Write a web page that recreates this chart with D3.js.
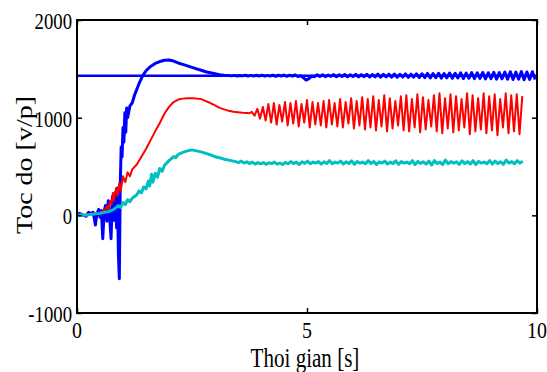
<!DOCTYPE html>
<html><head><meta charset="utf-8">
<script src="https://cdn.jsdelivr.net/npm/d3@7"></script>
<style>body{margin:0;background:#fff}</style>
</head><body><svg id="c" width="547" height="372"></svg>
<script>
// ---- data ----
const xTicks = [0, 5, 10];
const yTicks = [-1000, 0, 1000, 2000];
const xLabel = "Thoi gian [s]";
const yLabel = "Toc do [v/p]";
const refSpeed = 1430;

const blueHead = [[0,0],[0.05,20],[0.1,10],[0.15,0],[0.2,-10],[0.25,30],[0.3,20],[0.35,30],[0.38,-40],[0.4,-100],[0.43,10],[0.47,60],[0.5,-20],[0.53,50],[0.56,-240],[0.59,40],[0.62,100],[0.65,-60],[0.68,150],[0.71,-20],[0.74,-240],[0.77,190],[0.8,-50],[0.83,230],[0.86,-130],[0.88,280],[0.9,-400],[0.92,-650],[0.94,300],[0.96,700],[0.98,600],[1.0,900],[1.02,750],[1.04,1050],[1.06,850],[1.08,1100],[1.1,1000],[1.15,1120],[1.2,1150],[1.25,1230],[1.3,1290],[1.35,1350],[1.43,1430],[1.5,1480],[1.6,1525],[1.7,1555],[1.8,1575],[1.9,1588],[2.0,1590],[2.1,1580],[2.2,1560],[2.3,1545],[2.4,1530],[2.5,1515],[2.6,1500],[2.7,1485],[2.8,1470],[2.9,1460],[3.0,1450],[3.1,1440],[3.2,1434]];
const blueTailStart = 3.3, blueTailStep = 0.06;
const blueTail = [1432,1428,1433,1427,1432,1428,1434,1426,1433,1427,
1434,1426,1435,1425,1433,1427,1436,1424,1434,1426,
1437,1423,1435,1425,1438,1422,1430,1410,1385,1400,
1425,1420,1438,1422,1440,1420,1437,1423,1441,1419,
1439,1421,1442,1418,1440,1420,1443,1417,1441,1419,
1444,1416,1442,1418,1446,1414,1443,1417,1445,1415,
1447,1413,1444,1416,1448,1412,1445,1415,1449,1411,
1450,1410,1453,1407,1451,1409,1455,1405,1452,1408,
1457,1403,1454,1406,1459,1401,1456,1404,1461,1399,
1458,1402,1463,1397,1460,1400,1465,1395,1462,1398,
1467,1393,1470,1390,1466,1394,1472,1388,1468,1392,1470,1390];

const redHead = [[0.2,20],[0.3,10],[0.4,20],[0.5,30],[0.6,50],[0.65,90],[0.68,60],[0.72,150],[0.75,110],[0.78,230],[0.8,150],[0.85,280],[0.88,200],[0.92,330],[0.95,250],[1.0,400],[1.05,340],[1.1,440],[1.15,400],[1.2,470],[1.3,520],[1.4,600],[1.5,680],[1.6,770],[1.7,860],[1.8,945],[1.9,1040],[2.0,1110],[2.1,1160],[2.2,1185],[2.3,1195],[2.4,1200],[2.5,1198],[2.6,1195],[2.7,1190],[2.75,1180],[2.8,1170],[2.9,1150],[3.0,1125],[3.1,1100],[3.2,1085],[3.3,1070],[3.4,1060],[3.5,1055],[3.6,1050],[3.7,1048],[3.75,1045]];
const redTailStart = 3.8, redTailStep = 0.06;
const redTail = [1060,1020,1090,990,1110,970,
1140,950,1150,930,1130,960,1160,920,1150,940,
1170,910,1140,950,1180,900,1160,930,1150,920,
1170,900,1180,930,1150,910,1190,900,1160,940,
1200,890,1170,920,1210,880,1190,900,1220,870,
1180,910,1230,860,1200,890,1170,920,1220,870,
1230,860,1190,900,1240,850,1210,880,1180,910,
1230,860,1250,840,1200,890,1240,850,1220,870,
1190,900,1250,830,1230,860,1200,880,1250,840,
1220,870,1240,820,1190,900,1250,840,1230,860,
1240,830,1220];

const cyanHead = [[0,0],[0.1,5],[0.2,0],[0.3,10],[0.4,15],[0.5,20],[0.6,30],[0.7,40],[0.8,60],[0.9,100],[0.95,80],[1.0,130],[1.05,110],[1.1,160],[1.15,140],[1.2,175],[1.3,210],[1.35,250],[1.4,230],[1.45,290],[1.5,270],[1.55,350],[1.58,300],[1.62,420],[1.65,340],[1.7,430],[1.75,390],[1.8,480],[1.85,450],[1.9,510],[2.0,560],[2.1,600],[2.15,590],[2.2,625],[2.3,645],[2.4,660],[2.5,670],[2.6,660],[2.7,650],[2.8,635],[2.9,620],[3.0,600],[3.1,590],[3.2,575],[3.3,565],[3.4,555]];
const cyanTailStart = 3.45, cyanTailStep = 0.06;
const cyanTail = [550,540,555,535,548,530,545,525,540,528,
540,522,538,530,545,525,535,520,542,528,
550,530,545,520,548,532,555,528,545,535,
550,525,548,530,560,528,545,535,555,525,
548,530,558,522,550,535,545,528,560,530,
552,520,548,535,555,525,545,530,558,522,
550,535,545,528,560,520,552,530,548,525,
555,515,560,530,545,520,565,528,550,535,
548,522,558,530,550,525,560,520,552,535,
545,528,560,525,555,530,548,522,565,535,
550,528,560,535,555];

// ---- build ----
function build(head, start, step, tail) {
  return head.concat(tail.map((v, i) => [start + i * step, v]));
}
const blue = build(blueHead, blueTailStart, blueTailStep, blueTail);
const red = build(redHead, redTailStart, redTailStep, redTail);
const cyan = build(cyanHead, cyanTailStart, cyanTailStep, cyanTail);

const L = 77, R = 537, T = 20, B = 313;
const svg = d3.select("#c");
const x = d3.scaleLinear().domain([0, 10]).range([L, R]);
const y = d3.scaleLinear().domain([-1000, 2000]).range([B, T]);

svg.append("defs").append("clipPath").attr("id", "clip")
  .append("rect").attr("x", L).attr("y", T).attr("width", R - L).attr("height", B - T);

const line = d3.line().x(d => x(d[0])).y(d => y(d[1]));
const g = svg.append("g").attr("clip-path", "url(#clip)");

g.append("path").datum([[0, refSpeed], [10, refSpeed]]).attr("d", line)
  .attr("fill", "none").attr("stroke", "#0000ff").attr("stroke-width", 2.5);
g.append("path").datum(blue).attr("d", line)
  .attr("fill", "none").attr("stroke", "#0000ff").attr("stroke-width", 3).attr("stroke-linejoin", "round");
g.append("path").datum(red).attr("d", line)
  .attr("fill", "none").attr("stroke", "#ff0000").attr("stroke-width", 2).attr("stroke-linejoin", "round");
g.append("path").datum(cyan).attr("d", line)
  .attr("fill", "none").attr("stroke", "#00bfbf").attr("stroke-width", 3).attr("stroke-linejoin", "round");

// axes ticks (inward), no labels
function ax(gen, tx, ty) {
  const a = svg.append("g").attr("transform", `translate(${tx},${ty})`).call(gen);
  a.select(".domain").remove();
  a.selectAll(".tick line").attr("stroke", "#000").attr("stroke-width", 1.5);
  a.selectAll("text").remove();
}
ax(d3.axisBottom(x).tickValues(xTicks).tickSize(-5), 0, B);
ax(d3.axisTop(x).tickValues(xTicks).tickSize(-5), 0, T);
ax(d3.axisLeft(y).tickValues(yTicks).tickSize(-5), L, 0);
ax(d3.axisRight(y).tickValues(yTicks).tickSize(-5), R, 0);

svg.append("rect").attr("x", L).attr("y", T).attr("width", R - L).attr("height", B - T)
  .attr("fill", "none").attr("stroke", "#000").attr("stroke-width", 2);

const font = "'Liberation Serif','Times New Roman',serif";
// x tick labels
xTicks.forEach(v => {
  svg.append("text").attr("transform", `translate(${x(v)},338) scale(0.83,1)`)
    .attr("text-anchor", "middle").attr("font-family", font).attr("font-size", 24).attr("fill", "#000")
    .text(v);
});
// y tick labels
yTicks.forEach(v => {
  svg.append("text").attr("transform", `translate(72,${y(v) + 9}) scale(0.78,1)`)
    .attr("text-anchor", "end").attr("font-family", font).attr("font-size", 24).attr("fill", "#000")
    .text(v);
});
svg.append("text").attr("transform", `translate(305,367) scale(0.78,1)`)
  .attr("text-anchor", "middle").attr("font-family", font).attr("font-size", 27).attr("fill", "#000")
  .text(xLabel);
svg.append("text").attr("transform", `translate(32,165) rotate(-90) scale(1,0.8)`)
  .attr("text-anchor", "middle").attr("font-family", font).attr("font-size", 28).attr("fill", "#000")
  .text(yLabel);
</script>
</body></html>
